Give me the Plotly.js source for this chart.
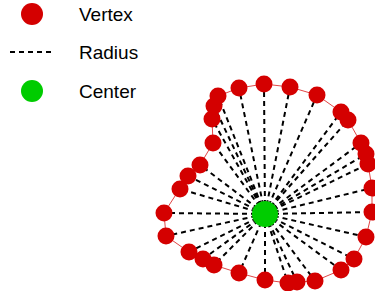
<!DOCTYPE html>
<html>
<head>
<meta charset="utf-8">
<script src="https://cdn.plot.ly/plotly-3.0.1.min.js"></script>
<style>html,body{margin:0;padding:0;background:#fff;}#chart{width:375px;height:291px;}</style>
</head>
<body>
<div id="chart"></div>
<script>
// Vertex coordinates (center at origin)
var vertexX = [-1.01,-0.85,-0.77,-0.65,-0.52,-0.53,-0.51,-0.47,-0.26,-0.01,0.25,0.52,0.76,0.83,0.96,1.01,1.03,1.07,1.07,1.01,0.89,0.76,0.50,0.32,0.23,0.00,-0.26,-0.51,-0.62,-0.76,-0.99];
var vertexY = [0.01,0.25,0.38,0.49,0.71,0.95,1.08,1.18,1.26,1.30,1.27,1.19,1.02,0.94,0.71,0.60,0.50,0.26,0.02,-0.23,-0.45,-0.56,-0.67,-0.68,-0.69,-0.66,-0.59,-0.51,-0.45,-0.38,-0.22];
var centerX = [0];
var centerY = [0];
var legendLabels = ["Vertex", "Radius", "Center"];

var W = 375, H = 291;
var red = '#d40000', green = '#00cc00';

// polygon outline (closed)
var polyX = vertexX.concat([vertexX[0]]);
var polyY = vertexY.concat([vertexY[0]]);

// radii
var radX = [], radY = [];
for (var i = 0; i < vertexX.length; i++) {
  radX.push(centerX[0], vertexX[i], null);
  radY.push(centerY[0], vertexY[i], null);
}

var traces = [
  {x: polyX, y: polyY, mode: 'lines', line: {color: 'rgb(225,70,70)', width: 1}, hoverinfo: 'skip', showlegend: false},
  {x: radX, y: radY, mode: 'lines', name: legendLabels[1], line: {color: '#000', width: 2, dash: '5px,4px'}, showlegend: false},
  {x: vertexX, y: vertexY, mode: 'markers', name: legendLabels[0], marker: {color: red, size: 17}, showlegend: false},
  {x: centerX, y: centerY, mode: 'markers', name: legendLabels[2], marker: {color: green, size: 26}, showlegend: false}
];

function px(x) { return x / W; }
function py(y) { return 1 - y / H; }

var legendY = [14, 52, 91];
var shapes = [
  {type: 'circle', xref: 'paper', yref: 'paper', xsizemode: 'pixel', ysizemode: 'pixel',
   xanchor: px(32), yanchor: py(legendY[0]), x0: -11, x1: 11, y0: -11, y1: 11,
   fillcolor: red, line: {width: 0}},
  {type: 'line', xref: 'paper', yref: 'paper', x0: px(10), x1: px(54), y0: py(legendY[1]), y1: py(legendY[1]),
   line: {color: '#000', width: 2, dash: '5px,4px'}},
  {type: 'circle', xref: 'paper', yref: 'paper', xsizemode: 'pixel', ysizemode: 'pixel',
   xanchor: px(32), yanchor: py(legendY[2]), x0: -11, x1: 11, y0: -11, y1: 11,
   fillcolor: green, line: {width: 0}}
];
var annotations = legendLabels.map(function (t, k) {
  return {text: t, xref: 'paper', yref: 'paper', x: px(77), y: py(legendY[k]), xanchor: 'left', yanchor: 'middle',
          showarrow: false, font: {family: 'Liberation Sans, Arial, sans-serif', size: 19, color: '#000'}};
});

var layout = {
  width: W, height: H,
  margin: {l: 0, r: 0, t: 0, b: 0},
  paper_bgcolor: '#fff', plot_bgcolor: '#fff',
  showlegend: false,
  xaxis: {range: [-2.65, 1.10], visible: false, fixedrange: true},
  yaxis: {range: [-0.77, 2.14], visible: false, fixedrange: true},
  shapes: shapes,
  annotations: annotations
};

Plotly.newPlot('chart', traces, layout, {displayModeBar: false, staticPlot: true});
</script>
</body>
</html>
